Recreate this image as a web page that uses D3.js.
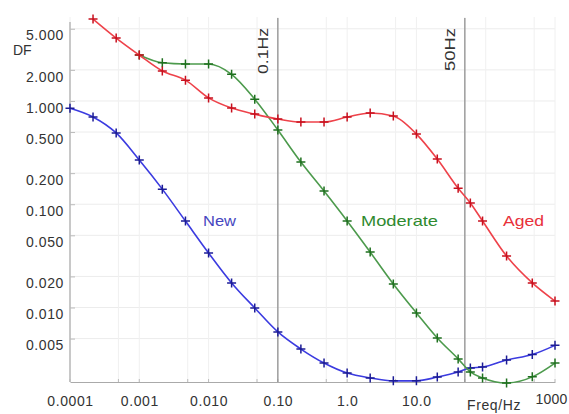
<!DOCTYPE html>
<html>
<head>
<meta charset="utf-8">
<script src="https://cdn.jsdelivr.net/npm/d3@7"></script>
<style>
	body { margin: 0; background: #fff; }
	text { font-family: "Liberation Sans", Arial, sans-serif; }
</style>
</head>
<body>
<div id="chart"></div>
<script>
// frequencies in Hz, shared by the three series
const freqs = [0.0001, 0.000215, 0.000464, 0.001, 0.00215, 0.00464, 0.01, 0.0215, 0.0464,
	0.1, 0.215, 0.464, 1, 2.15, 4.64, 10, 20, 40, 60, 90, 200, 470, 1000];

const dfNew = [0.85, 0.70, 0.49, 0.268, 0.140, 0.0687, 0.0337, 0.0173, 0.0099,
	0.0058, 0.00396, 0.0029, 0.00232, 0.00208, 0.00195, 0.00195, 0.00212, 0.00237, 0.0026, 0.00265, 0.0031, 0.0035, 0.0043];

const dfModerate = [null, null, null, 2.78, 2.34, 2.28, 2.28, 1.81, 1.04,
	0.523, 0.256, 0.134, 0.0688, 0.0344, 0.0169, 0.00886, 0.00507, 0.00318, 0.00238, 0.00208, 0.00186, 0.00213, 0.0029];

const dfAged = [null, 6.2, 4.06, 2.78, 1.95, 1.59, 1.07, 0.853, 0.746,
	0.668, 0.625, 0.625, 0.698, 0.764, 0.714, 0.478, 0.274, 0.143, 0.103, 0.0688, 0.0315, 0.0173, 0.01155];

const seriesNames = ["New", "Moderate", "Aged"];

const xTicks = [0.0001, 0.001, 0.01, 0.1, 1, 10, 1000];
const xTickLabels = ["0.0001", "0.001", "0.010", "0.10", "1.0", "10.0", "1000"];
const yTicks = [5, 2, 1, 0.5, 0.2, 0.1, 0.05, 0.02, 0.01, 0.005];
const yTickLabels = ["5.000", "2.000", "1.000", "0.500", "0.200", "0.100", "0.050", "0.020", "0.010", "0.005"];
const xGrid = [0.0001, 0.0005, 0.001, 0.005, 0.01, 0.05, 0.1, 0.5, 1, 5, 10, 50, 100, 500, 1000];

const refFreqs = [0.1, 50];
const refLabels = ["0.1Hz", "50Hz"];

const W = 569, H = 414;
const pLeft = 70, pRight = 555, pTop = 17, pBottom = 382;

const svg = d3.select("#chart").append("svg")
	.attr("width", W)
	.attr("height", H);

const x = d3.scaleLog().domain([0.0001, 1000]).range([pLeft, pRight]);
const y = d3.scaleLog().domain([0.0019, 6.5]).range([pBottom, pTop]);

// grid
svg.append("g")
	.selectAll("line")
	.data(yTicks)
	.enter().append("line")
	.attr("x1", pLeft).attr("x2", pRight)
	.attr("y1", d => y(d)).attr("y2", d => y(d))
	.attr("stroke", "#ececec");

svg.append("g")
	.selectAll("line")
	.data(xGrid)
	.enter().append("line")
	.attr("x1", d => x(d)).attr("x2", d => x(d))
	.attr("y1", pTop).attr("y2", pBottom)
	.attr("stroke", "#f0f0f0");

// axes
const yAxis = svg.append("g")
	.attr("transform", `translate(${pLeft},0)`)
	.call(d3.axisLeft(y).tickValues(yTicks).tickFormat((d, i) => yTickLabels[i]).tickSize(-5).tickPadding(6));
yAxis.select(".domain").attr("stroke", "#999").attr("d", `M0,22V${pBottom}`);
yAxis.selectAll(".tick line").attr("stroke", "#bbb");
yAxis.selectAll(".tick text")
	.attr("dy", "0.8em")
	.attr("fill", "#333")
	.style("font-size", "14px")
	.style("letter-spacing", "0.6px");

const xAxis = svg.append("g")
	.attr("transform", `translate(0,${pBottom})`)
	.call(d3.axisBottom(x).tickValues(xTicks).tickFormat((d, i) => xTickLabels[i]).tickSize(0).tickPadding(14));
xAxis.select(".domain").attr("stroke", "#aaa");
xAxis.selectAll(".tick text")
	.attr("fill", "#333")
	.style("font-size", "14px")
	.style("letter-spacing", "0.6px");
// last label sits against the right edge
xAxis.selectAll(".tick text")
	.filter(d => d === 1000)
	.attr("text-anchor", "end")
	.attr("x", W - pRight - 2)
	.attr("dy", "0.55em")
	.style("letter-spacing", "0.2px");

svg.append("g")
	.selectAll("line")
	.data(xGrid)
	.enter().append("line")
	.attr("x1", d => x(d)).attr("x2", d => x(d))
	.attr("y1", pBottom).attr("y2", pBottom - 3)
	.attr("stroke", "#bbb");

svg.append("text")
	.attr("x", 494).attr("y", 410)
	.attr("text-anchor", "middle")
	.attr("fill", "#333")
	.style("font-size", "14px")
	.style("letter-spacing", "0.6px")
	.text("Freq/Hz");

svg.append("text")
	.attr("x", 13).attr("y", 55)
	.attr("fill", "#333")
	.style("font-size", "14px")
	.text("DF");

// reference lines at 0.1 Hz and 50 Hz
refFreqs.forEach((f, i) => {
	svg.append("line")
		.attr("x1", x(f)).attr("x2", x(f))
		.attr("y1", 18).attr("y2", pBottom)
		.attr("stroke", "#8f8f8f")
		.attr("stroke-width", 1.3);
	svg.append("text")
		.attr("transform", `translate(${x(f) - 10},28) rotate(-90)`)
		.attr("text-anchor", "end")
		.attr("fill", "#333")
		.style("font-size", "15px")
		.attr("textLength", i === 0 ? 46 : 43)
		.attr("lengthAdjust", "spacingAndGlyphs")
		.text(refLabels[i]);
});

// series
const styles = {
	New: { line: "#3b3be0", mark: "#1c1c96", label: "#4646c0", lx: 203, lw: 33 },
	Moderate: { line: "#4c9a4c", mark: "#1f701f", label: "#2f8a2f", lx: 361, lw: 77 },
	Aged: { line: "#ee424a", mark: "#c8101e", label: "#e8303a", lx: 503, lw: 41 }
};
const seriesValues = { New: dfNew, Moderate: dfModerate, Aged: dfAged };

const line = d3.line()
	.defined(d => d[1] != null)
	.x(d => x(d[0]))
	.y(d => y(d[1]))
	.curve(d3.curveMonotoneX);

seriesNames.forEach(name => {
	const st = styles[name];
	const pts = freqs.map((f, i) => [f, seriesValues[name][i]]);
	svg.append("path")
		.datum(pts)
		.attr("fill", "none")
		.attr("stroke", st.line)
		.attr("stroke-width", 1.6)
		.attr("d", line);
	svg.append("g")
		.selectAll("path")
		.data(pts.filter(d => d[1] != null))
		.enter().append("path")
		.attr("transform", d => `translate(${x(d[0])},${y(d[1])})`)
		.attr("d", "M-4.5,0H4.5M0,-4.5V4.5")
		.attr("stroke", st.mark)
		.attr("stroke-width", 1.5);
	svg.append("text")
		.attr("x", st.lx).attr("y", 226)
		.attr("fill", st.label)
		.style("font-size", "15px")
		.attr("textLength", st.lw)
		.attr("lengthAdjust", "spacingAndGlyphs")
		.text(name);
});
</script>
</body>
</html>
